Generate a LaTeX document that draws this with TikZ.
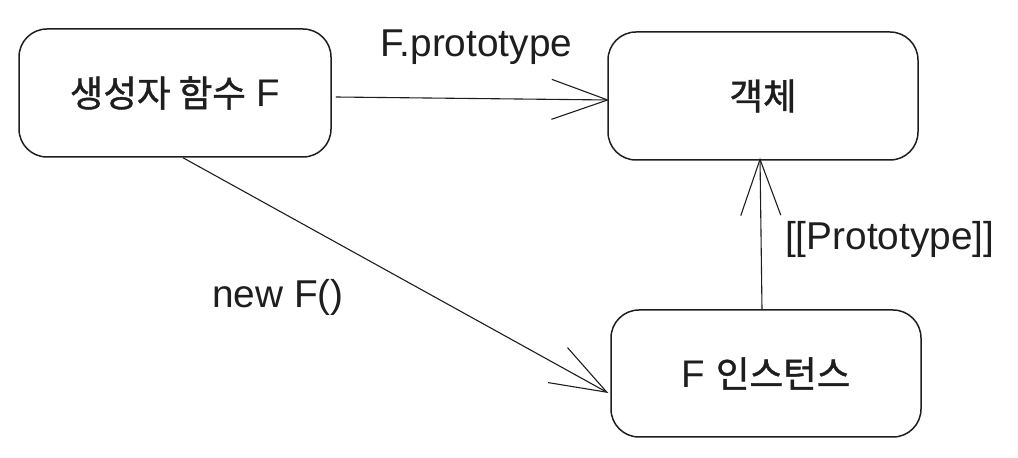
\documentclass[tikz,border=0pt]{standalone}
\usepackage{fontspec}
\setmainfont{Liberation Sans}
\newfontfamily\kr[FakeBold=1.2]{Noto Sans CJK KR}
\usetikzlibrary{arrows.meta}
\definecolor{ink}{RGB}{30,30,30}
\tikzset{
  box/.style={draw=ink, line width=1.5pt, rounded corners=28pt, text=ink,
    minimum width=310pt, minimum height=128pt, inner sep=0pt,
    font=\fontsize{38.5}{44}\selectfont},
  lbl/.style={inner sep=0pt, anchor=base west, text=ink, font=\fontsize{38.8}{44}\selectfont},
  arr/.style={draw=ink, line width=1.1pt, -{Straight Barb[length=56pt,width=40pt,line width=1.1pt]}}
}
\newcommand{\ko}[1]{{\kr\fontsize{36.5}{42}\selectfont #1}}
\begin{document}
\begin{tikzpicture}[x=1pt,y=1pt]
\useasboundingbox (0,0) rectangle (1018,458);
\node[box, minimum width=312pt] (b1) at (175,365) {\ko{생성자 함수} F};
\node[box] (b2) at (763,362) {\ko{객체}};
\node[box, minimum height=127pt] (b3) at (766,84.5) {F \ko{인스턴스}};
\node[lbl] (l1) at (380,401) {F.prototype};
\node[lbl] (l2) at (212,150) {new F()};
\node[lbl] (l3) at (785,208) {[[Prototype]]};
\draw[arr] ([xshift=4pt,yshift=-4pt]b1.east) -- ([xshift=2pt,yshift=-4pt]b2.west);
\draw[arr] ([xshift=8pt]b1.south) -- ([xshift=-2pt,yshift=-19.5pt]b3.west);
\draw[arr] ([xshift=-4pt]b3.north) -- ([xshift=-3pt,yshift=3pt]b2.south);
\end{tikzpicture}
\end{document}
